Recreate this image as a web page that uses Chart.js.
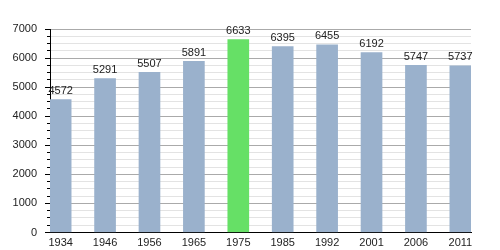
<!DOCTYPE html>
<html>
<head>
<meta charset="utf-8">
<script src="https://cdn.jsdelivr.net/npm/chart.js@4"></script>
<style>
  body { margin: 0; background: #fff; }
</style>
</head>
<body>
<canvas id="pop" width="500" height="250"></canvas>
<script>
const years = ['1934', '1946', '1956', '1965', '1975', '1985', '1992', '2001', '2006', '2011'];
const population = [4572, 5291, 5507, 5891, 6633, 6395, 6455, 6192, 5747, 5737];
const highlightYear = '1975';

Chart.defaults.font.family = "'Liberation Sans', Arial, sans-serif";
Chart.defaults.font.size = 11;
Chart.defaults.color = '#222';

// values written on top of every bar
const valueLabels = {
    id: 'valueLabels',
    afterDatasetsDraw(chart) {
        const ctx = chart.ctx;
        const meta = chart.getDatasetMeta(0);
        ctx.save();
        ctx.font = "11px 'Liberation Sans', Arial, sans-serif";
        ctx.fillStyle = '#222';
        ctx.textAlign = 'center';
        ctx.textBaseline = 'bottom';
        meta.data.forEach((bar, i) => {
            ctx.fillText(population[i], bar.x, bar.y - 3);
        });
        ctx.restore();
    }
};

new Chart(document.getElementById('pop').getContext('2d'), {
    type: 'bar',
    data: {
        datasets: [{
            data: population.map((v, i) => ({ x: i, y: v })),
            backgroundColor: years.map(y => y === highlightYear ? '#66e066' : '#9ab1cc'),
            barThickness: 21
        }]
    },
    options: {
        responsive: false,
        animation: false,
        layout: { padding: { top: 29, right: 29, bottom: 0, left: 0 } },
        plugins: {
            legend: { display: false },
            tooltip: { enabled: false }
        },
        scales: {
            x: {
                type: 'linear',
                offset: false,
                min: -0.24,
                max: 9.24,
                afterBuildTicks: axis => {
                    axis.ticks = years.map((y, i) => ({ value: i }));
                },
                afterFit: s => { s.height = 17.5; },
                grid: { display: false, drawTicks: false },
                border: { color: '#000' },
                ticks: {
                    autoSkip: false,
                    maxRotation: 0,
                    padding: 4,
                    callback: v => years[v]
                }
            },
            y: {
                min: 0,
                max: 7000,
                weight: 1,
                afterFit: s => { s.width = 50; },
                border: { color: '#000' },
                grid: { color: '#aaaaaa', tickColor: '#000', tickLength: 5 },
                ticks: { stepSize: 1000, padding: 8, callback: v => String(v) }
            },
            // minor lines every 250
            y2: {
                position: 'left',
                min: 0,
                max: 7000,
                weight: 0,
                afterFit: s => { s.width = 0; },
                border: { display: false },
                grid: {
                    color: c => c.tick.value % 1000 ? '#e3e3e3' : 'rgba(0,0,0,0)',
                    tickColor: c => c.tick.value % 1000 ? '#000' : 'rgba(0,0,0,0)',
                    tickLength: 3
                },
                ticks: { stepSize: 250, display: false }
            }
        }
    },
    plugins: [valueLabels]
});
</script>
</body>
</html>
